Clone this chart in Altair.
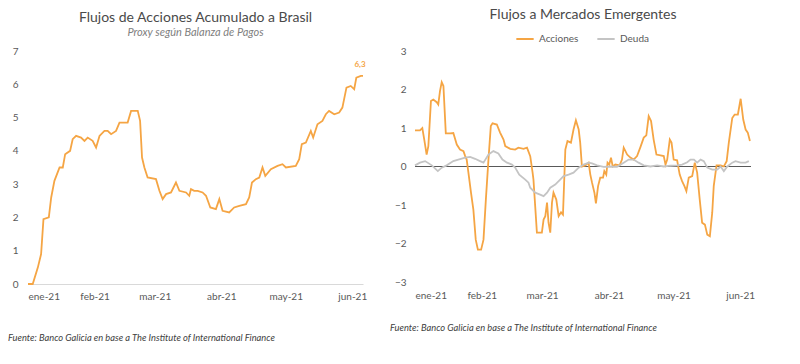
import altair as alt
import pandas as pd

# ---------------- data (x = days since 1-Jan-2021) ----------------
meses_dias = [0, 31, 59, 90, 120, 151]
meses_etiquetas = ["ene-21", "feb-21", "mar-21", "abr-21", "may-21", "jun-21"]

dias_izq = [0, 2.2, 4.6, 6.1, 7.2, 9.7, 10.8, 12.3, 14.7, 16.2, 17.3, 19.6, 20.8, 22.4, 24.7,
            26.3, 27.8, 30.1, 31.7, 33.3, 35.6, 37.1, 38.7, 41.0, 42.6, 46.4, 48.0, 51.1, 52.2,
            53.1, 54.2, 55.7, 59.6, 61.2, 62.7, 64.3, 66.6, 68.9, 70.5, 73.6, 75.1, 75.9, 77.4,
            79.0, 81.3, 82.9, 84.9, 87.5, 89.1, 90.6, 93.7, 96.0, 98.4, 101.5, 103.0, 104.3,
            106.1, 107.7, 109.2, 110.5, 113.1, 116.2, 118.5, 120.1, 124.7, 126.3, 127.5, 129.4,
            131.7, 132.8, 134.8, 137.1, 138.7, 140.2, 142.6, 144.9, 146.4, 148.3, 150.3, 151.9,
            152.9, 155.0, 156.0]
valores_izq = [0, 0, 0.5, 0.9, 1.95, 2.0, 2.6, 3.1, 3.5, 3.5, 3.9, 4.0, 4.35, 4.45, 4.4,
               4.3, 4.4, 4.3, 4.1, 4.45, 4.6, 4.6, 4.5, 4.6, 4.85, 4.85, 5.2, 5.2, 4.9,
               3.8, 3.5, 3.2, 3.15, 2.8, 2.55, 2.7, 2.75, 3.05, 2.8, 2.75, 2.65, 2.85, 2.8,
               2.8, 2.75, 2.65, 2.3, 2.25, 2.55, 2.2, 2.15, 2.3, 2.35, 2.4, 2.6, 3.05,
               3.15, 3.2, 3.5, 3.25, 3.45, 3.55, 3.6, 3.5, 3.55, 3.75, 4.2, 4.25,
               4.6, 4.4, 4.8, 4.9, 5.1, 5.2, 5.1, 5.15, 5.3, 5.9, 5.95, 5.85,
               6.2, 6.25, 6.25]
etiqueta_final = "6,3"

dias_acc = [0, 2.3, 3.4, 4.3, 5.4, 6.2, 7.4, 8.5, 10.1, 10.8, 11.6, 12.4, 13.2, 14.3, 16.3,
            17.8, 19.4, 20.9, 22.5, 23.3, 24.0, 24.8, 26.0, 27.1, 28.2, 29.2, 30.7, 31.8, 32.9,
            34.1, 35.2, 36.0, 38.0, 39.5, 41.1, 41.9, 44.2, 46.5, 48.0, 50.4, 52.0, 53.5, 54.6,
            55.0, 55.8, 56.6, 58.9, 59.7, 60.5, 61.3, 62.0, 62.8, 63.6, 64.3, 65.6, 66.7, 67.8,
            68.7, 69.8, 70.8, 72.4, 73.6, 74.7, 76.0, 76.7, 77.5, 79.1, 80.6, 81.4, 82.2, 83.3,
            84.0, 85.0, 86.0, 87.3, 87.9, 88.8, 89.4, 90.2, 91.0, 91.8, 93.0, 95.0, 96.1, 96.9,
            98.5, 100.0, 101.5, 103.1, 104.7, 106.2, 107.4, 108.5, 109.6, 110.8, 112.1, 114.0,
            115.5, 116.3, 117.1, 118.3, 119.1, 120.1, 121.7, 122.9, 124.0, 125.1, 126.0, 127.1,
            128.7, 129.9, 131.0, 132.2, 133.3, 134.6, 135.7, 136.9, 138.0, 138.7, 140.0, 141.9,
            143.4, 144.7, 145.7, 147.3, 148.4, 149.9, 151.2, 152.4, 153.5, 154.5, 155.5]
valores_acc = [0.94, 0.94, 1.0, 0.7, 0.31, 0.53, 1.7, 1.74, 1.67, 1.61, 1.96, 2.19, 2.09, 0.86, 0.86,
               0.87, 0.57, 0.44, 0.4, 0.27, 0.18, -0.16, -0.68, -1.12, -1.9, -2.16, -2.16, -1.9, -0.86,
               0.18, 1.05, 1.12, 1.09, 0.88, 0.7, 0.53, 0.46, 0.44, 0.49, 0.46, 0.49, 0.27, -0.16,
               -0.34, -1.03, -1.72, -1.72, -1.38, -1.29, -0.94, -1.46, -1.72, -0.94, -0.68, -0.86, -1.29, -1.19,
               -1.25, 0.44, 0.66, 0.62, 0.96, 1.2, 0.96, 0.62, 0.0, 0.03, 0.1, -0.21, -0.42, -0.68,
               -0.96, -0.51, -0.29, -0.29, -0.12, -0.21, 0.1, 0.05, 0.23, 0.0, 0.05, 0.03, 0.18, 0.49,
               0.31, 0.23, 0.18, 0.27, 0.51, 0.75, 0.81, 1.31, 1.18, 0.7, 0.31, 0.29,
               0.27, 0.05, 0.18, 0.7, 0.62, 0.18, 0.16, -0.21, -0.38, -0.51, -0.64, -0.29,
               -0.25, 0.1, -0.16, -0.86, -1.46, -1.51, -1.77, -1.81, -1.2, -0.51, 0.03, 0.03,
               0.0, 0.14, 0.62, 1.26, 1.35, 1.35, 1.76, 1.22, 0.96, 0.88, 0.66]

dias_deu = [0, 2.3, 4.7, 7.8, 10.6, 12.4, 14.7, 17.8, 20.1, 23.3, 25.6, 27.9, 30.2, 31.8, 34.1,
            36.4, 38.7, 40.6, 42.7, 45.0, 46.5, 48.4, 51.2, 52.7, 53.5, 55.8, 58.1, 59.7, 61.3,
            62.8, 65.1, 67.4, 69.0, 71.3, 73.6, 76.0, 78.3, 80.6, 82.2, 84.5, 87.6, 90.7, 93.8,
            96.9, 99.2, 101.5, 103.8, 106.2, 109.3, 112.4, 115.5, 118.6, 121.7, 124.0, 126.4,
            127.9, 129.5, 131.0, 132.6, 134.1, 135.7, 138.0, 140.3, 141.9, 143.4, 145.0, 147.3,
            148.8, 151.2, 153.5, 155.0]
valores_deu = [0.03, 0.1, 0.14, 0.03, -0.12, -0.03, 0.03, 0.14, 0.18, 0.23, 0.25, 0.2, 0.14, 0.1, 0.31,
               0.4, 0.34, 0.18, 0.1, 0.05, -0.03, -0.21, -0.34, -0.42, -0.55, -0.68, -0.73, -0.77, -0.68,
               -0.55, -0.47, -0.34, -0.25, -0.21, -0.16, -0.03, 0.05, 0.1, 0.08, 0.03, -0.01, 0.0, -0.01,
               0.1, 0.18, 0.18, 0.1, 0.03, 0.0, 0.03, 0.0, 0.02, 0.03, 0.05, 0.11,
               0.18, 0.18, 0.1, 0.18, 0.14, -0.03, -0.08, -0.08, 0.0, -0.12, 0.0, 0.1,
               0.14, 0.1, 0.1, 0.14]

series = ["Acciones", "Deuda"]
linea_cero = [0]
fuente = "Fuente: Banco Galicia en base a The Institute of International Finance"

# ---------------- styling ----------------
NARANJA = "#F5A544"
GRIS = "#C4C4C4"
OSCURO = "#595959"
TITULO = "#4A4A4A"
FONT = "Lato"

label_expr = "[" + ",".join(f"'{e}'" for e in meses_etiquetas) + "][indexof([" + \
    ",".join(str(d) for d in meses_dias) + "], datum.value)]"

df_izq = pd.DataFrame({"dia": dias_izq, "valor": valores_izq})
df_fin = pd.DataFrame({"dia": [dias_izq[-1]], "valor": [valores_izq[-1]], "txt": [etiqueta_final]})
df_der = pd.concat([
    pd.DataFrame({"dia": dias_acc, "valor": valores_acc, "serie": series[0]}),
    pd.DataFrame({"dia": dias_deu, "valor": valores_deu, "serie": series[1]}),
])
df_cero = pd.DataFrame({"valor": linea_cero})
df_fuente = pd.DataFrame({"t": [fuente]})

x_left = alt.X("dia:Q", scale=alt.Scale(domain=[0, 156], nice=False, zero=False),
               axis=alt.Axis(values=meses_dias, labelExpr=label_expr, title=None, grid=False,
                             ticks=False, domain=True, domainColor="#D9D9D9", labelPadding=7,
                             labelColor=OSCURO, labelFontSize=10, labelFont=FONT,
                             labelOverlap=False))
y_left = alt.Y("valor:Q", scale=alt.Scale(domain=[0, 7], nice=False),
               axis=alt.Axis(values=list(range(0, 8)), title=None, grid=False, ticks=False,
                             domain=False, labelPadding=10, labelColor=OSCURO, labelFontSize=10,
                             labelFont=FONT, minExtent=20, maxExtent=20, labelOverlap=False))

linea_izq = alt.Chart(df_izq).mark_line(color=NARANJA, strokeWidth=1.8).encode(x=x_left, y=y_left)
texto_fin = alt.Chart(df_fin).mark_text(color=NARANJA, fontSize=8, fontWeight="bold", dy=-11,
                                         dx=-3, font=FONT).encode(x=x_left, y=y_left, text="txt:N")
fuente_izq = alt.Chart(df_fuente).mark_text(align="left", baseline="middle", fontSize=9.3,
                                            fontStyle="italic", color="#404040", font=FONT).encode(
    x=alt.value(-20), y=alt.value(287), text="t:N")

izq = alt.layer(linea_izq, texto_fin, fuente_izq).properties(
    width=335, height=233,
    title=alt.TitleParams(text="Flujos de Acciones Acumulado a Brasil",
                          subtitle="Proxy según Balanza de Pagos",
                          fontSize=14, fontWeight="normal", color=TITULO, font=FONT,
                          subtitleFont=FONT, subtitleFontSize=11, subtitleFontStyle="italic",
                          subtitleColor="#7F7F7F", anchor="middle", offset=8, subtitlePadding=2))

x_right = alt.X("dia:Q", scale=alt.Scale(domain=[0, 156], nice=False, zero=False),
                axis=alt.Axis(values=meses_dias, labelExpr=label_expr, title=None, grid=False,
                              ticks=False, domain=False, labelPadding=8, labelColor=OSCURO,
                              labelFontSize=10, labelFont=FONT, labelOverlap=False))
y_right = alt.Y("valor:Q", scale=alt.Scale(domain=[-3, 3], nice=False),
                axis=alt.Axis(values=list(range(-3, 4)), title=None, grid=False, ticks=False,
                              domain=False, labelPadding=9, labelColor=OSCURO, labelFontSize=10,
                              labelFont=FONT, minExtent=25, maxExtent=25, labelOverlap=False))

cero = alt.Chart(df_cero).mark_rule(color=OSCURO, strokeWidth=1.2).encode(y=y_right)
lineas_der = alt.Chart(df_der).mark_line(strokeWidth=1.8).encode(
    x=x_right, y=y_right,
    color=alt.Color("serie:N", scale=alt.Scale(domain=series, range=[NARANJA, GRIS]),
                    legend=alt.Legend(title=None, orient="none", legendX=100, legendY=-22,
                                      direction="horizontal", symbolType="stroke",
                                      symbolStrokeWidth=2, symbolSize=300, labelFont=FONT,
                                      labelFontSize=10, labelColor=OSCURO, columnPadding=14)),
    order=alt.Order("serie:N", sort="descending"))
fuente_der = alt.Chart(df_fuente).mark_text(align="left", baseline="middle", fontSize=9.3,
                                            fontStyle="italic", color="#404040", font=FONT).encode(
    x=alt.value(-25), y=alt.value(277), text="t:N")

der = alt.layer(cero, lineas_der, fuente_der).properties(
    width=336, height=231,
    title=alt.TitleParams(text="Flujos a Mercados Emergentes", fontSize=14, fontWeight="normal",
                          color=TITULO, font=FONT, anchor="middle", offset=7))

chart = alt.hconcat(izq, der, spacing=23).properties(padding=0).resolve_legend(
    color="independent").resolve_scale(color="independent").configure_view(stroke=None)

chart.save("out.html", embed_options={"renderer": "svg", "actions": False})
